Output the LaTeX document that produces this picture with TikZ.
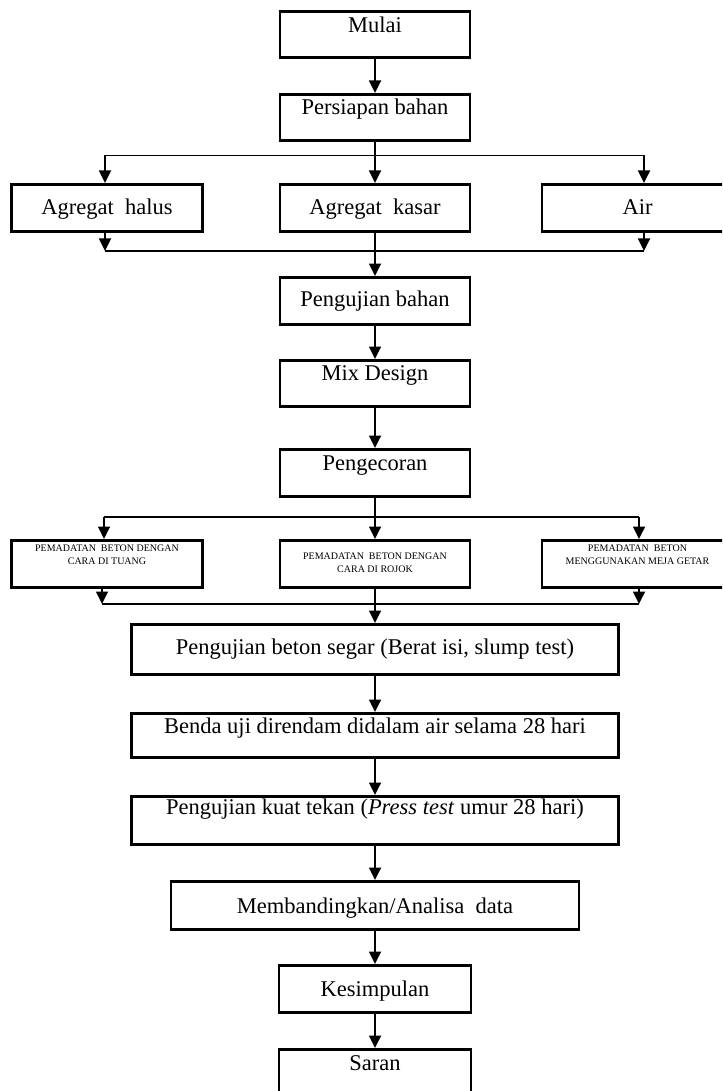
\documentclass[tikz,border=0pt]{standalone}
\usepackage{fontspec}
\setmainfont{Liberation Serif}
\usetikzlibrary{arrows.meta}
\tikzset{
  box/.style={draw, line width=2.9pt, inner sep=0pt, anchor=north,
    font=\fontsize{22.5}{27}\selectfont},
  sbox/.style={box, font=\fontsize{10}{13.5}\selectfont},
  conn/.style={line width=1.8pt},
  arr/.style={conn, -{Triangle[width=12pt,length=12.5pt]}},
}
\begin{document}
\begin{tikzpicture}[x=1pt,y=-1pt]
\useasboundingbox (0,0) rectangle (722,1091);
\clip (0,0) rectangle (722,1091);

\node[box, minimum width=190pt, text height=21.5pt, text depth=24.5pt] (mulai) at (375,10) {Mulai};
\node[box, minimum width=190pt, text height=20pt, text depth=26pt] (persiapan) at (375,93) {Persiapan bahan};
\node[box, minimum width=191pt, text height=30pt, text depth=17pt] (halus) at (107,183) {Agregat\ \ halus};
\node[box, minimum width=190pt, text height=30pt, text depth=17pt] (kasar) at (375,183) {Agregat\ \ kasar};
\node[box, minimum width=191pt, text height=30pt, text depth=17pt] (air) at (637.5,183) {Air};
\node[box, minimum width=190pt, text height=29pt, text depth=18pt] (pbahan) at (375,276) {Pengujian bahan};
\node[box, minimum width=190pt, text height=20pt, text depth=26pt] (mix) at (375,359) {Mix Design};
\node[box, minimum width=190pt, text height=21pt, text depth=26pt] (cor) at (375,448) {Pengecoran};

\node[sbox, minimum width=191pt, text height=11pt, text depth=36pt] (pem1) at (107,539)
  {\begin{tabular}[t]{@{}c@{}}PEMADATAN\ \ BETON DENGAN\\CARA DI TUANG\end{tabular}};
\node[sbox, minimum width=190pt, text height=19pt, text depth=28pt] (pem2) at (375,539)
  {\begin{tabular}[t]{@{}c@{}}PEMADATAN\ \ BETON DENGAN\\CARA DI ROJOK\end{tabular}};
\node[sbox, minimum width=191pt, text height=11pt, text depth=36pt] (pem3) at (637.5,539)
  {\begin{tabular}[t]{@{}c@{}}PEMADATAN\ \ BETON\\MENGGUNAKAN MEJA GETAR\end{tabular}};

\node[box, minimum width=487pt, text height=30pt, text depth=20pt] (segar) at (375,623) {Pengujian beton segar (Berat isi, slump test)};
\node[box, minimum width=487pt, text height=20pt, text depth=24pt] (benda) at (375,712) {Benda uji direndam didalam air selama 28 hari};
\node[box, minimum width=487pt, text height=18pt, text depth=30pt] (kuat) at (375,795) {Pengujian kuat tekan (\textit{Press test} umur 28 hari)};
\node[box, minimum width=408pt, text height=32pt, text depth=16pt] (banding) at (375,880) {Membandingkan/Analisa\ \ data};
\node[box, minimum width=192pt, text height=31pt, text depth=16pt] (simpul) at (375,964) {Kesimpulan};
\node[box, minimum width=192pt, text height=21pt, text depth=32pt] (saran) at (375,1048) {Saran};

% branch / merge points
\coordinate (b1L) at (105,155.5);
\coordinate (b1R) at (644,155.5);
\coordinate (m1L) at (105,251);
\coordinate (m1R) at (644,251);
\coordinate (b2L) at (104,517);
\coordinate (b2R) at (639,517);
\coordinate (m2L) at (102,604);
\coordinate (m2R) at (639,604);

\draw[arr] (mulai.south) -- (persiapan.north);
\draw[arr] (persiapan.south) -- (kasar.north);
\draw[conn] (b1L) -- (b1R);
\draw[arr] (b1L) -- (b1L |- halus.north);
\draw[arr] (b1R) -- (b1R |- air.north);
\draw[arr] (m1L |- halus.south) -- (m1L);
\draw[arr] (m1R |- air.south) -- (m1R);
\draw[conn] (m1L) -- (m1R);
\draw[arr] (kasar.south) -- (pbahan.north);
\draw[arr] (pbahan.south) -- (mix.north);
\draw[arr] (mix.south) -- (cor.north);
\draw[arr] (cor.south) -- (pem2.north);
\draw[conn] (b2L) -- (b2R);
\draw[arr] (b2L) -- (b2L |- pem1.north);
\draw[arr] (b2R) -- (b2R |- pem3.north);
\draw[arr] (m2L |- pem1.south) -- (m2L);
\draw[arr] (m2R |- pem3.south) -- (m2R);
\draw[conn] (m2L) -- (m2R);
\draw[arr] (pem2.south) -- (segar.north);
\draw[arr] (segar.south) -- (benda.north);
\draw[arr] (benda.south) -- (kuat.north);
\draw[arr] (kuat.south) -- (banding.north);
\draw[arr] (banding.south) -- (simpul.north);
\draw[arr] (simpul.south) -- (saran.north);
\end{tikzpicture}
\end{document}
